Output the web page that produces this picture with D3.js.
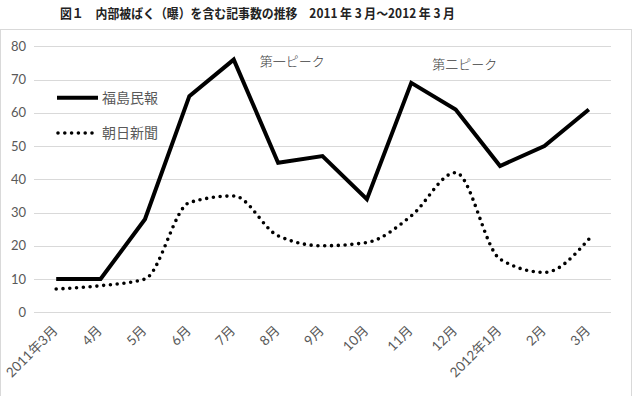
<!DOCTYPE html>
<html><head><meta charset="utf-8">
<script src="https://cdn.jsdelivr.net/npm/d3@7"></script>
<style>
html,body{margin:0;padding:0;background:#fff;}
svg{display:block;}
</style></head>
<body>
<svg id="chart" width="636" height="396"></svg>
<script>
const categories = ["2011年3月","4月","5月","6月","7月","8月","9月","10月","11月","12月","2012年1月","2月","3月"];
const fukushima = [10,10,28,65,76,45,47,34,69,61,44,50,61];
const asahi = [7,8,10,33,35,23,20,21,29,42,16,12,22];
const yTicks = [0,10,20,30,40,50,60,70,80];
const seriesNames = ["福島民報","朝日新聞"];
const title = "図１　内部被ばく（曝）を含む記事数の推移　2011 年 3 月～2012 年 3 月";
const annotations = [{text:"第一ピーク", cat:"7月", v:75.6, dx:26}, {text:"第二ピーク", cat:"11月", v:74.7, dx:21}];

const svg = d3.select("#chart");
const latin = "Lato, 'Noto Sans CJK JP', sans-serif";
const cjk = "'Noto Sans CJK JP', sans-serif";

// chart frame
svg.append("rect").attr("x",0.5).attr("y",29.5).attr("width",631).attr("height",370)
  .attr("fill","none").attr("stroke","#d9d9d9").attr("stroke-width",1);

// title
svg.append("text").attr("x",60).attr("y",18).attr("text-anchor","start")
  .attr("font-family",cjk).attr("font-weight","bold").attr("font-size",13)
  .attr("textLength",395).attr("lengthAdjust","spacingAndGlyphs")
  .attr("fill","#222").text(title);

const x = d3.scaleBand().domain(categories).range([34,611]);
const y = d3.scaleLinear().domain([0,80]).range([312.3,46.3]);
const cx = c => x(c) + x.bandwidth()/2;

// grid
svg.append("g").selectAll("line").data(yTicks).join("line")
  .attr("x1",34).attr("x2",611)
  .attr("y1",d=>Math.round(y(d))+0.5).attr("y2",d=>Math.round(y(d))+0.5)
  .attr("stroke","#d9d9d9").attr("stroke-width",1);

// y labels
svg.append("g").selectAll("text").data(yTicks).join("text")
  .attr("x",26).attr("y",d=>y(d)+4.5).attr("text-anchor","end")
  .attr("font-family",latin).attr("font-size",13).attr("fill","#595959")
  .text(d=>d);

// x labels
svg.append("g").selectAll("text").data(categories).join("text")
  .attr("transform",d=>`translate(${cx(d)-1},${328}) rotate(-45)`)
  .attr("text-anchor","end").attr("dy","0.35em")
  .attr("font-family",latin).attr("font-size",13.5).attr("fill","#595959")
  .text(d=>d);

// lines
const solid = d3.line().x((d,i)=>cx(categories[i])).y(d=>y(d));
svg.append("path").datum(fukushima).attr("d",solid)
  .attr("fill","none").attr("stroke","#000").attr("stroke-width",4).attr("stroke-linejoin","miter");

const smooth = d3.line().x((d,i)=>cx(categories[i])).y(d=>y(d)).curve(d3.curveMonotoneX);
svg.append("path").datum(asahi).attr("d",smooth)
  .attr("fill","none").attr("stroke","#000").attr("stroke-width",3.6)
  .attr("stroke-linecap","round").attr("stroke-dasharray","0 6.8");

// legend
const leg = svg.append("g");
leg.append("line").attr("x1",57).attr("x2",98).attr("y1",97.7).attr("y2",97.7)
  .attr("stroke","#000").attr("stroke-width",4);
leg.append("line").attr("x1",58).attr("x2",94).attr("y1",133).attr("y2",133)
  .attr("stroke","#000").attr("stroke-width",3.6).attr("stroke-linecap","round").attr("stroke-dasharray","0 6.8");
leg.selectAll("text").data(seriesNames).join("text")
  .attr("x",102).attr("y",(d,i)=>[97.7,133][i]+5)
  .attr("font-family",cjk).attr("font-size",14).attr("fill","#595959").text(d=>d);

// annotations
svg.append("g").selectAll("text").data(annotations).join("text")
  .attr("x",d=>cx(d.cat)+d.dx).attr("y",d=>y(d.v)+5)
  .attr("font-family",cjk).attr("font-size",13).attr("font-weight",300).attr("fill","#404040")
  .text(d=>d.text);
</script>
</body></html>
